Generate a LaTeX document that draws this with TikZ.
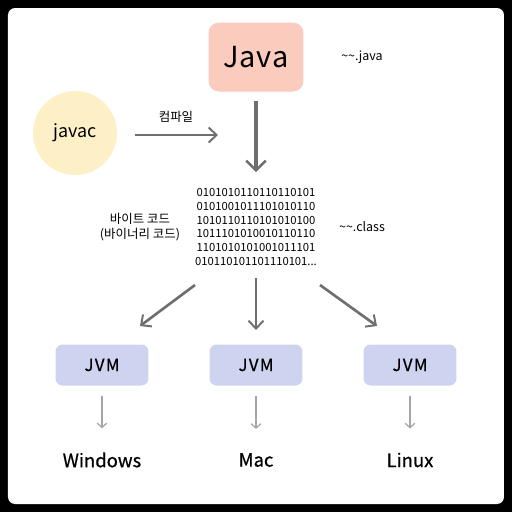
\documentclass[tikz,border=0pt]{standalone}
\usepackage{fontspec}
\setmainfont{Noto Sans CJK KR}
\newfontfamily\heavyfont{Noto Sans CJK KR}[FakeBold=0.7]
\usetikzlibrary{arrows.meta}
\definecolor{javafill}{RGB}{251,204,190}
\definecolor{javacfill}{RGB}{253,239,198}
\definecolor{jvmfill}{RGB}{206,211,239}
\definecolor{arrowgray}{RGB}{110,110,110}
\definecolor{thingray}{RGB}{165,165,165}

\begin{document}
\begin{tikzpicture}[
  x=0.02cm, y=-0.02cm,
  src/.style={fill=javafill, rounded corners=6pt, minimum width=1.9cm,
              minimum height=1.38cm, font=\fontsize{16.5}{18}\selectfont},
  tool/.style={circle, fill=javacfill, minimum size=1.68cm,
               font=\fontsize{10.2}{12}\selectfont},
  vm/.style={fill=jvmfill, rounded corners=4pt, minimum width=1.86cm,
             minimum height=0.82cm, font=\heavyfont\fontsize{9.5}{11}\selectfont},
  os/.style={font=\heavyfont\fontsize{10.5}{12}\selectfont},
  note/.style={font=\fontsize{7.1}{9}\selectfont, align=center},
  big/.style={draw=arrowgray, line width=1.9pt,
              -{Straight Barb[length=5.5pt,width=11pt,line width=1.4pt]}},
  mid/.style={draw=arrowgray, line width=1.5pt,
              -{Straight Barb[length=4.5pt,width=8.5pt,line width=1.1pt]}},
  thin/.style={draw=thingray, line width=0.8pt,
               -{Straight Barb[length=2.5pt,width=5.5pt,line width=0.7pt]}}]
\useasboundingbox (0,0) rectangle (512,512);
\fill[black] (0,0) rectangle (512,512);
\fill[white, rounded corners=4pt] (8,8) rectangle (504,504);

\node[src] (java) at (256,57) {J\kern0.5pt a\kern0.5pt v\kern0.5pt a};
\node[note] (ext) at (362,57) {\textasciitilde\textasciitilde.java};
\node[tool] (javac) at (75,133) {javac};
\node[note] (compile) at (176,117) {컴파일};
\coordinate (c0) at (135,135);
\coordinate (c1) at (218,135);
\draw[mid, line width=1.3pt] (c0) -- (c1);

\node[font=\fontsize{6.4}{7.9}\selectfont, align=center, inner sep=0pt] (code) at (256,227)
  {0101010110110110101\\0101001011101010110\\1010110110101010100\\
   1011101010010110110\\1101010101001011101\\010110101101110101...};
\node[note, font=\fontsize{7.1}{9}\selectfont] (label) at (140,227) {바이트 코드\\(바이너리 코드)};
\node[note] (cls) at (362,227) {\textasciitilde\textasciitilde.class};
\draw[big] (java.south) ++(0,9) coordinate (j0) -- (256,172) coordinate (j1);

% three platforms
\node[vm] (w) at (102,365) {J\kern0.8pt V\kern0.8pt M};
\node[vm] (m) at (256,365) {J\kern0.8pt V\kern0.8pt M};
\node[vm] (l) at (410,365) {J\kern0.8pt V\kern0.8pt M};
\coordinate (d0) at (195,285); \coordinate (d1) at (140,326);
\coordinate (e0) at (256,278); \coordinate (e1) at (256,330);
\coordinate (f0) at (320,285); \coordinate (f1) at (377,326);
\draw[mid] (d0) -- (d1);
\draw[mid] (e0) -- (e1);
\draw[mid] (f0) -- (f1);

\node[os] (win) at (102,460) {Windows};
\node[os] (mac) at (256,460) {Mac};
\node[os] (lin) at (410,460) {Linux};
\foreach \v/\o in {w/win,m/mac,l/lin}
  \draw[thin] ([yshift=-0.2cm]\v.south) -- ([yshift=0.36cm]\o.north);
\end{tikzpicture}
\end{document}
